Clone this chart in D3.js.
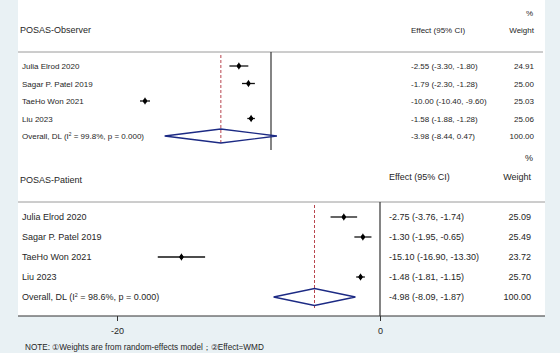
<!DOCTYPE html>
<html><head><meta charset="utf-8">
<script src="https://cdn.jsdelivr.net/npm/d3@7/dist/d3.min.js"></script>
<style>body{margin:0;background:#e9f1f4;}svg{display:block;font-family:"Liberation Sans",Arial,sans-serif;}</style>
</head><body><svg id="c" width="560" height="353"></svg>
<script>
const studies = ["Julia Elrod 2020", "Sagar P. Patel 2019", "TaeHo Won 2021", "Liu 2023"];
const obsEffect = [-2.55, -1.79, -10.00, -1.58];
const obsLow = [-3.30, -2.30, -10.40, -1.88];
const obsHigh = [-1.80, -1.28, -9.60, -1.28];
const obsWeight = [24.91, 25.00, 25.03, 25.06];
const obsOverall = [-3.98, -8.44, 0.47, 100.00];
const obsHet = [99.8, 0.000];
const patEffect = [-2.75, -1.30, -15.10, -1.48];
const patLow = [-3.76, -1.95, -16.90, -1.81];
const patHigh = [-1.74, -0.65, -13.30, -1.15];
const patWeight = [25.09, 25.49, 23.72, 25.70];
const patOverall = [-4.98, -8.09, -1.87, 100.00];
const patHet = [98.6, 0.000];
const axisTicks = [-20, 0];
const note = "NOTE: \u2460Weights are from random-effects model\uff1b\u2461Effect=WMD";

const svg = d3.select("#c");
const txt = "#262626";
svg.append("rect").attr("x",18).attr("y",0).attr("width",527).attr("height",316).attr("fill","#fff");

function fmt(v){ return v.toFixed(2); }

function panel(o){
  const g = svg.append("g");
  const x = d3.scaleLinear().domain([-20,0]).range(o.xr);
  const y = d3.scalePoint().domain(d3.range(5)).range(o.yr);
  g.append("text").attr("x",533).attr("y",o.pctY).attr("text-anchor","end").attr("font-size",o.hfs).attr("fill",txt).text("%");
  g.append("text").attr("x",20).attr("y",o.titleY).attr("font-size",9).attr("fill",txt).text(o.title);
  g.append("text").attr("x",o.effX).attr("y",o.headY).attr("font-size",o.hfs).attr("fill",txt).text("Effect (95% CI)");
  g.append("text").attr("x",o.wX).attr("y",o.headY).attr("text-anchor","end").attr("font-size",o.hfs).attr("fill",txt).text("Weight");
  g.append("line").attr("x1",18).attr("x2",o.sepX2).attr("y1",o.sepY).attr("y2",o.sepY).attr("stroke","#9a9a9a").attr("stroke-width",1);
  g.append("line").attr("x1",x(0)).attr("x2",x(0)).attr("y1",o.sepY).attr("y2",o.zeroY2).attr("stroke","#333").attr("stroke-width",1.2);
  g.append("line").attr("x1",x(o.overall[0])).attr("x2",x(o.overall[0])).attr("y1",o.sepY+3).attr("y2",o.redY2)
    .attr("stroke","#b0303a").attr("stroke-width",0.9).attr("stroke-dasharray","3,2");
  o.studies.forEach((s,i)=>{
    const yy = y(i);
    g.append("text").attr("x",22).attr("y",yy+3).attr("font-size",o.fs).attr("fill",txt).text(s);
    g.append("line").attr("x1",x(o.low[i])).attr("x2",x(o.high[i])).attr("y1",yy).attr("y2",yy).attr("stroke","#111").attr("stroke-width",1.3);
    g.append("path").attr("d",d3.symbol(d3.symbolDiamond,16)()).attr("transform",`translate(${x(o.eff[i])},${yy})`).attr("fill","#000");
    g.append("circle").attr("cx",x(o.eff[i])).attr("cy",yy).attr("r",2).attr("fill","#000");
    g.append("text").attr("x",o.effX).attr("y",yy+3).attr("font-size",o.fs).attr("fill",txt)
      .text(`${fmt(o.eff[i])} (${fmt(o.low[i])}, ${fmt(o.high[i])})`);
    g.append("text").attr("x",o.wX).attr("y",yy+3).attr("text-anchor","end").attr("font-size",o.fs).attr("fill",txt).text(fmt(o.w[i]));
  });
  const yo = y(4);
  const ol = g.append("text").attr("x",22).attr("y",yo+3).attr("font-size",o.fs).attr("fill",txt);
  ol.append("tspan").text("Overall, DL (I");
  ol.append("tspan").attr("font-size",o.fs*0.6).attr("dy",-3.5).text("2");
  ol.append("tspan").attr("dy",3.5).text(` = ${o.het[0].toFixed(1)}%, p = ${o.het[1].toFixed(3)})`);
  const h = o.dh;
  g.append("path").attr("d",`M${x(o.overall[1])},${yo}L${x(o.overall[0])},${yo-h}L${x(o.overall[2])},${yo}L${x(o.overall[0])},${yo+h}Z`)
    .attr("fill","none").attr("stroke","#1c2a84").attr("stroke-width",1.3);
  g.append("text").attr("x",o.effX).attr("y",yo+3).attr("font-size",o.fs).attr("fill",txt)
    .text(`${fmt(o.overall[0])} (${fmt(o.overall[1])}, ${fmt(o.overall[2])})`);
  g.append("text").attr("x",o.wX).attr("y",yo+3).attr("text-anchor","end").attr("font-size",o.fs).attr("fill",txt).text(fmt(o.overall[3]));
  return x;
}

panel({title:"POSAS-Observer", studies, eff:obsEffect, low:obsLow, high:obsHigh, w:obsWeight, overall:obsOverall, het:obsHet,
  xr:[19,271], yr:[66,136], pctY:16, titleY:33, headY:33, sepY:52, sepX2:543, zeroY2:150, redY2:143,
  effX:411, wX:534, fs:8, hfs:8, dh:7});

const xb = panel({title:"POSAS-Patient", studies, eff:patEffect, low:patLow, high:patHigh, w:patWeight, overall:patOverall, het:patHet,
  xr:[117,380], yr:[217,297], pctY:161, titleY:183, headY:180, sepY:202, sepX2:545, zeroY2:316, redY2:310,
  effX:389, wX:531, fs:9, hfs:9, dh:8.5});

svg.append("line").attr("x1",18).attr("x2",545).attr("y1",316).attr("y2",316).attr("stroke","#333").attr("stroke-width",1.2);
const ax = svg.append("g").attr("transform","translate(0,316)")
  .call(d3.axisBottom(xb).tickValues(axisTicks).tickSize(5).tickSizeOuter(0).tickFormat(d=>d));
ax.select(".domain").remove();
ax.selectAll("line").attr("stroke","#333");
ax.selectAll("text").attr("font-size",9).attr("fill",txt).attr("font-family","Liberation Sans, Arial, sans-serif").attr("dy","1.1em");

svg.append("text").attr("x",25).attr("y",350).attr("font-size",8.2).attr("fill",txt).text(note);
</script></body></html>
